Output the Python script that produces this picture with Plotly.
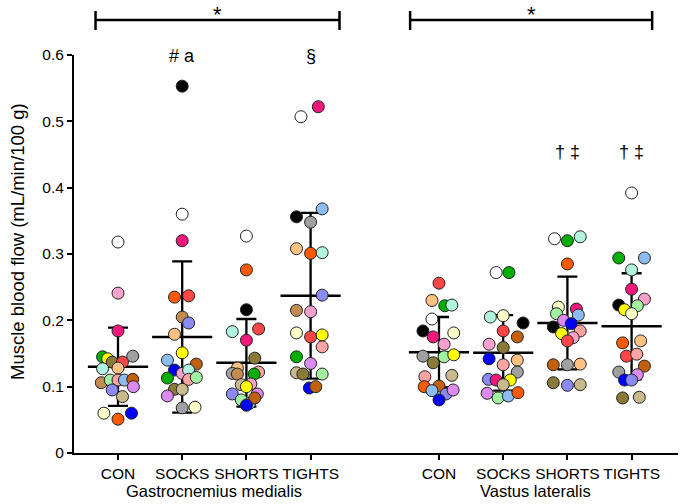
import plotly.graph_objects as go

# ---------------- data ----------------
categories = ["CON", "SOCKS", "SHORTS", "TIGHTS", "CON", "SOCKS", "SHORTS", "TIGHTS"]
positions = [1, 2, 3, 4, 6, 7, 8, 9]
muscles = ["Gastrocnemius medialis", "Vastus lateralis"]

palette = {
    "white": "#FFFFFF", "black": "#000000", "gray": "#A0A0A0", "olive": "#8A7A38",
    "khaki": "#C9B98C", "brown": "#C2600F", "orange": "#FF5A00", "red": "#FF4545",
    "magenta": "#F0187A", "pink": "#F7A1CC", "lavender": "#DD8AEE", "periwinkle": "#8A8AF2",
    "blue": "#0000FF", "lightblue": "#8CBDF0", "aqua": "#B2F3DF", "lightgreen": "#A2F0A2",
    "green": "#00AE00", "yellow": "#FFFF00", "lightyellow": "#FFFFCC", "peach": "#FFC184",
    "salmon": "#FFA3A3", "tan": "#C28B52",
}

gm_con_colors = ["white", "pink", "magenta", "green", "yellow", "olive", "red", "gray", "peach", "aqua",
                 "tan", "lightgreen", "salmon", "lightblue", "brown", "lavender", "periwinkle", "khaki",
                 "lightyellow", "orange", "blue"]
gm_con_values = [0.318, 0.241, 0.184, 0.145, 0.142, 0.137, 0.137, 0.146, 0.128, 0.127,
                 0.106, 0.110, 0.110, 0.110, 0.111, 0.100, 0.095, 0.085, 0.060, 0.051, 0.060]
gm_con_jitter = [0, 0, 0, -0.24, -0.16, -0.09, 0.07, 0.23, 0, -0.24,
                 -0.26, -0.12, 0, 0.10, 0.23, 0.24, -0.09, 0.07, -0.22, 0, 0.21]

gm_socks_colors = ["black", "white", "magenta", "orange", "red", "tan", "periwinkle", "peach", "yellow",
                   "lightblue", "brown", "blue", "pink", "aqua", "green", "salmon", "lightgreen", "olive",
                   "khaki", "lavender", "gray", "lightyellow"]
gm_socks_values = [0.553, 0.360, 0.320, 0.235, 0.237, 0.205, 0.196, 0.179, 0.151,
                   0.140, 0.134, 0.125, 0.120, 0.125, 0.113, 0.111, 0.114, 0.096,
                   0.096, 0.086, 0.068, 0.069]
gm_socks_jitter = [0, 0, 0, -0.12, 0.10, 0, 0.10, -0.12, 0,
                   -0.23, 0.22, -0.12, 0, 0.10, -0.23, 0.10, 0.22, -0.12,
                   0, -0.23, 0, 0.20]

gm_shorts_colors = ["white", "orange", "black", "aqua", "red", "magenta", "olive", "peach", "gray", "tan",
                    "salmon", "green", "khaki", "pink", "yellow", "periwinkle", "lavender", "lightgreen",
                    "lightblue", "brown", "blue"]
gm_shorts_values = [0.327, 0.276, 0.216, 0.183, 0.187, 0.170, 0.143, 0.128, 0.120, 0.119,
                    0.122, 0.119, 0.103, 0.104, 0.100, 0.089, 0.089, 0.080,
                    0.075, 0.083, 0.072]
gm_shorts_jitter = [0, 0, 0, -0.22, 0.19, 0, 0.13, -0.14, -0.22, -0.14,
                    0.19, 0.12, -0.08, 0.07, 0, -0.22, 0.17, -0.08,
                    0.05, 0.13, 0]

gm_tights_colors = ["magenta", "white", "lightblue", "black", "gray", "peach", "orange", "aqua", "periwinkle",
                    "tan", "pink", "lightyellow", "red", "yellow", "salmon", "green", "lavender", "khaki",
                    "olive", "lightgreen", "blue", "brown"]
gm_tights_values = [0.522, 0.507, 0.368, 0.356, 0.348, 0.308, 0.301, 0.302, 0.238,
                    0.215, 0.213, 0.181, 0.175, 0.178, 0.160, 0.145, 0.135, 0.121,
                    0.119, 0.119, 0.098, 0.100]
gm_tights_jitter = [0.12, -0.15, 0.18, -0.22, 0, -0.22, 0, 0.18, 0.18,
                    -0.22, 0, -0.22, 0, 0.18, 0.18, -0.22, 0, -0.22,
                    -0.12, 0.18, -0.02, 0.08]

vl_con_colors = ["red", "peach", "green", "aqua", "white", "black", "magenta", "lightyellow", "pink", "gray",
                 "lightgreen", "yellow", "olive", "khaki", "salmon", "orange", "brown", "lightblue",
                 "periwinkle", "lavender", "blue"]
vl_con_values = [0.256, 0.230, 0.222, 0.223, 0.202, 0.184, 0.175, 0.181, 0.164, 0.146,
                 0.145, 0.148, 0.136, 0.117, 0.115, 0.100, 0.101, 0.094,
                 0.089, 0.095, 0.080]
vl_con_jitter = [0, -0.11, 0.09, 0.20, -0.11, -0.25, -0.09, 0.23, 0.08, -0.25,
                 0.08, 0.23, -0.09, 0.20, -0.22, -0.23, 0, -0.11,
                 0.11, 0.22, 0]

vl_socks_colors = ["white", "green", "aqua", "lightyellow", "black", "red", "brown", "pink", "olive", "blue",
                   "peach", "salmon", "gray", "periwinkle", "magenta", "yellow", "khaki", "lavender",
                   "lightgreen", "lightblue", "orange"]
vl_socks_values = [0.272, 0.272, 0.205, 0.207, 0.196, 0.184, 0.175, 0.164, 0.159, 0.142,
                   0.140, 0.133, 0.122, 0.111, 0.110, 0.110, 0.103, 0.090,
                   0.083, 0.086, 0.091]
vl_socks_jitter = [-0.11, 0.09, -0.20, 0, 0.31, 0, 0.22, -0.22, 0, -0.22,
                   0.22, 0, 0.22, -0.23, -0.11, 0.11, 0, -0.25,
                   -0.08, 0.08, 0.23]

vl_shorts_colors = ["white", "green", "aqua", "orange", "lightyellow", "magenta", "lightgreen", "lightblue",
                    "lavender", "blue", "black", "salmon", "yellow", "pink", "red", "brown", "gray", "peach",
                    "olive", "periwinkle", "khaki"]
vl_shorts_values = [0.323, 0.320, 0.326, 0.285, 0.220, 0.217, 0.210, 0.208,
                    0.200, 0.195, 0.190, 0.184, 0.180, 0.174, 0.169, 0.133, 0.133, 0.134,
                    0.106, 0.102, 0.103]
vl_shorts_jitter = [-0.20, 0, 0.20, 0, -0.14, 0.14, -0.17, 0.17,
                    -0.06, 0.06, -0.22, 0.20, -0.09, 0.09, 0, -0.22, 0, 0.20,
                    -0.22, 0, 0.20]

vl_tights_colors = ["white", "green", "lightblue", "aqua", "magenta", "pink", "black", "lightgreen", "yellow",
                    "lightyellow", "orange", "peach", "red", "salmon", "brown", "gray", "lavender", "blue",
                    "periwinkle", "olive", "khaki"]
vl_tights_values = [0.392, 0.294, 0.294, 0.276, 0.247, 0.232, 0.223, 0.222, 0.216,
                    0.210, 0.166, 0.169, 0.146, 0.149, 0.131, 0.122, 0.118, 0.110,
                    0.110, 0.083, 0.084]
vl_tights_jitter = [0, -0.20, 0.20, 0, 0, 0.20, -0.20, 0.09, -0.11,
                    0, -0.14, 0.14, -0.08, 0.08, 0.20, -0.20, 0.09, -0.11,
                    0, -0.14, 0.12]

group_colors = [gm_con_colors, gm_socks_colors, gm_shorts_colors, gm_tights_colors,
                vl_con_colors, vl_socks_colors, vl_shorts_colors, vl_tights_colors]
group_values = [gm_con_values, gm_socks_values, gm_shorts_values, gm_tights_values,
                vl_con_values, vl_socks_values, vl_shorts_values, vl_tights_values]
group_jitter = [gm_con_jitter, gm_socks_jitter, gm_shorts_jitter, gm_tights_jitter,
                vl_con_jitter, vl_socks_jitter, vl_shorts_jitter, vl_tights_jitter]

group_means = [0.130, 0.175, 0.136, 0.237, 0.152, 0.151, 0.196, 0.191]
group_sds = [0.059, 0.114, 0.066, 0.125, 0.053, 0.057, 0.070, 0.080]

y_ticks = [0, 0.1, 0.2, 0.3, 0.4, 0.5, 0.6]
y_ticktext = ["0", "0.1", "0.2", "0.3", "0.4", "0.5", "0.6"]

# significance annotations (axis positions and symbols)
brackets = [(0.65, 4.45, "*"), (5.55, 9.32, "*")]
symbols = [(2, "# a"), (4, "§"), (8, "† ‡"), (9, "† ‡")]

# ---------------- figure ----------------
W, H = 680, 504
ML, MR, MT, MB = 74, 2, 55, 51
FONT = "Liberation Sans, Arial, sans-serif"
plot_h = H - MT - MB


def ypaper(px):
    return (H - MB - px) / plot_h


fig = go.Figure()

# mean + SD (drawn under the dots)
fig.add_trace(go.Scatter(
    x=positions, y=group_means, mode="markers",
    marker=dict(symbol="line-ew", size=43, color="black", line=dict(width=2.5, color="black")),
    error_y=dict(type="data", array=group_sds, visible=True, color="black", thickness=2.3, width=10),
    hoverinfo="skip", showlegend=False,
))

for pos, cols, vals, jit in zip(positions, group_colors, group_values, group_jitter):
    fig.add_trace(go.Scatter(
        x=[pos + j for j in jit], y=vals, mode="markers",
        marker=dict(size=12, color=[palette[c] for c in cols],
                    line=dict(width=1, color="#222222")),
        showlegend=False, cliponaxis=False,
    ))

shapes = []
annotations = []
for x0, x1, sym in brackets:
    shapes.append(dict(type="line", xref="x", yref="paper", x0=x0, x1=x1,
                       y0=ypaper(20), y1=ypaper(20), line=dict(color="black", width=2.5)))
    for xx in (x0, x1):
        shapes.append(dict(type="line", xref="x", yref="paper", x0=xx, x1=xx,
                           y0=ypaper(11), y1=ypaper(30), line=dict(color="black", width=2.5)))
    annotations.append(dict(x=(x0 + x1) / 2, y=ypaper(0), xref="x", yref="paper", text=sym,
                            xanchor="center", yanchor="top",
                            showarrow=False, font=dict(size=22, family=FONT, color="black")))

for xpos, sym in symbols:
    ypix = 56 if xpos <= 4 else 152
    annotations.append(dict(x=xpos, y=ypaper(ypix), xref="x", yref="paper", text=sym,
                            xanchor="center", yanchor="middle",
                            showarrow=False, font=dict(size=18, family=FONT, color="black")))

for xc, label in zip((2.5, 7.5), muscles):
    annotations.append(dict(x=xc, y=ypaper(491), xref="x", yref="paper", text=label,
                            xanchor="center", yanchor="middle",
                            showarrow=False, font=dict(size=16.5, family=FONT, color="black")))
annotations.append(dict(x=(17 - ML) / (W - ML - MR), y=ypaper(242), xref="paper", yref="paper",
                        xanchor="center", yanchor="middle",
                        text="Muscle blood flow (mL/min/100 g)", textangle=-90, showarrow=False,
                        font=dict(size=18.5, family=FONT, color="black")))

fig.update_layout(
    width=W, height=H,
    margin=dict(l=ML, r=MR, t=MT, b=MB, autoexpand=False),
    paper_bgcolor="white", plot_bgcolor="white",
    font=dict(family=FONT, color="black"),
    shapes=shapes, annotations=annotations,
    xaxis=dict(range=[1 - 44 / 64.2, 1 + 560 / 64.2], tickvals=positions, ticktext=categories,
               automargin=False, tickangle=0,
               showgrid=False, zeroline=False, showline=True, linecolor="black", linewidth=2,
               ticks="outside", ticklen=5, tickwidth=2, tickcolor="black",
               tickfont=dict(size=15.5, family=FONT, color="black")),
    yaxis=dict(range=[0, 0.6], tickvals=y_ticks, ticktext=y_ticktext,
               automargin=False,
               showgrid=False, zeroline=False, showline=True, linecolor="black", linewidth=2,
               ticks="outside", ticklen=5, tickwidth=2, tickcolor="black",
               tickfont=dict(size=15.5, family=FONT, color="black")),
)

fig.write_html("out.html", config={"displayModeBar": False},
               post_script="document.body.style.margin='0px';")
